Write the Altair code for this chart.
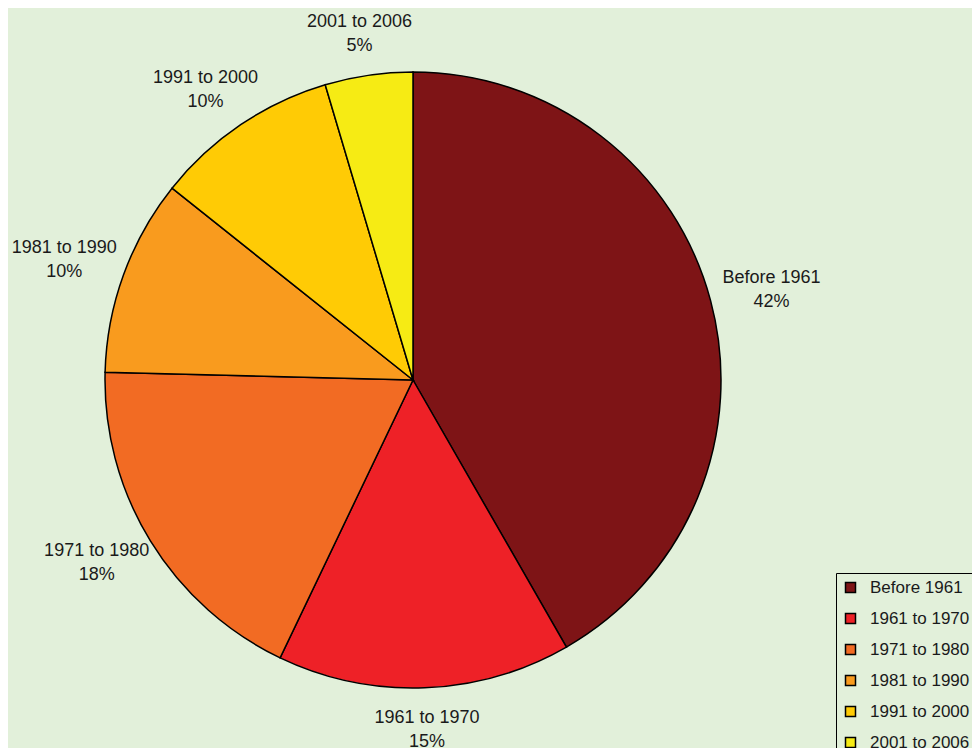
import altair as alt
import pandas as pd

periods = ["Before 1961", "1961 to 1970", "1971 to 1980", "1981 to 1990", "1991 to 2000", "2001 to 2006"]
shares = [41.7, 15.4, 18.3, 10.3, 9.7, 4.6]
pct_labels = ["42%", "15%", "18%", "10%", "10%", "5%"]
colors = ["#7E1416", "#EE2127", "#F26B23", "#F99B1E", "#FFCB05", "#F6EB14"]

df = pd.DataFrame({
    "period": periods,
    "share": shares,
    "label": [f"{p}\n{l}" for p, l in zip(periods, pct_labels)],
    "order": list(range(len(periods))),
})

FONT = "Liberation Sans"
BG = "#E2F0DA"
CX, CY = 405, 372
R_PIE = 308
RX_LAB, RY_LAB = 371, 350

pie = alt.Chart(df).mark_arc(outerRadius=R_PIE, stroke="black", strokeWidth=1.5).encode(
    theta=alt.Theta("share:Q", stack=True),
    order=alt.Order("order:Q"),
    x=alt.value(CX),
    y=alt.value(CY),
    color=alt.Color(
        "period:N",
        scale=alt.Scale(domain=periods, range=colors),
        sort=periods,
        legend=alt.Legend(
            title=None,
            orient="none",
            legendX=828,
            legendY=565,
            symbolType="square",
            symbolSize=100,
            symbolStrokeColor="black",
            symbolStrokeWidth=1.5,
            labelFont=FONT,
            labelFontSize=17,
            labelColor="#1a1a1a",
            labelOffset=11,
            rowPadding=13,
            padding=6,
            strokeColor="black",
            fillColor=BG,
            cornerRadius=0,
        ),
    ),
)

labels = (
    alt.Chart(df)
    .transform_window(cum="sum(share)", sort=[alt.SortField("order")], frame=[None, 0])
    .transform_joinaggregate(total="sum(share)")
    .transform_calculate(mid="(datum.cum - datum.share / 2) / datum.total * 2 * PI")
    .transform_calculate(
        lx=f"{CX} + {RX_LAB} * sin(datum.mid)",
        ly=f"{CY} - {RY_LAB} * cos(datum.mid)",
    )
    .mark_text(
        font=FONT, fontSize=18, color="#1a1a1a", dy=-12,
        lineBreak="\n", lineHeight=24, align="center", baseline="middle",
    )
    .encode(
        x=alt.X("lx:Q", scale=None),
        y=alt.Y("ly:Q", scale=None),
        text="label:N",
    )
)

chart = (pie + labels).properties(
    width=964,
    height=740,
    autosize=alt.AutoSizeParams(type="none"),
    padding=0,
    background=BG,
).configure_view(stroke=None)

chart.save("out.html", embed_options={"renderer": "svg", "actions": False})
